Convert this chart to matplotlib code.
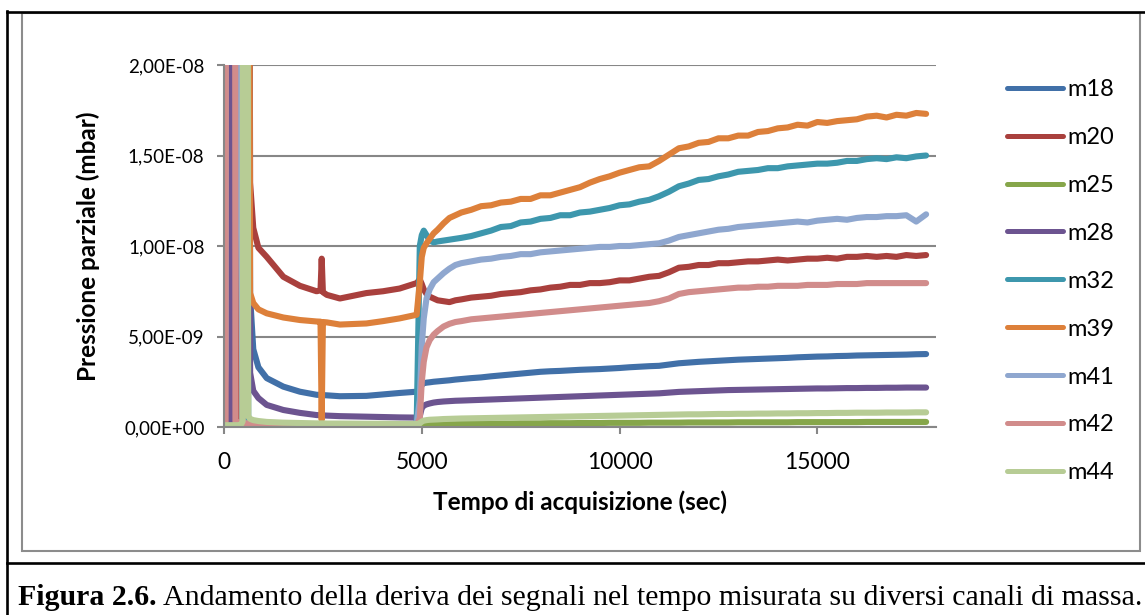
import numpy as np
import matplotlib.pyplot as plt
from matplotlib.ticker import FuncFormatter
from matplotlib.patches import Rectangle
from matplotlib.lines import Line2D

# tempo di acquisizione (sec)
tempo = [0, 40, 60, 160, 175, 190, 270, 290, 400, 420,
         470, 490, 590, 610, 660, 740, 870, 1080, 1500, 1920,
         2340, 2440, 2470, 2500, 2600, 2930, 3600, 4020, 4440, 4870,
         4950, 5000, 5050, 5120, 5200, 5300, 5400, 5550, 5700, 5850,
         6000, 6250, 6500, 6750, 7000, 7250, 7500, 7750, 8000, 8250,
         8500, 8750, 9000, 9250, 9500, 9750, 10000, 10250, 10500, 10750,
         11000, 11250, 11500, 11750, 12000, 12250, 12500, 12750, 13000, 13250,
         13500, 13750, 14000, 14250, 14500, 14750, 15000, 15250, 15500, 15750,
         16000, 16250, 16500, 16750, 17000, 17250, 17500, 17750]

# pressioni parziali in unita' di 1E-09 mbar
m18 = [0, 0, 0, 0, 0, 0, 0, 0, 0, 0,
       0, 60, 60, 60, 7.2, 4.3, 3.3, 2.7, 2.23, 1.95,
       1.78, 1.77, 1.77, 1.76, 1.75, 1.70, 1.72, 1.80, 1.88, 1.95,
       2.05, 2.35, 2.42, 2.45, 2.47, 2.50, 2.52, 2.55, 2.58, 2.62,
       2.65, 2.70, 2.74, 2.80, 2.85, 2.90, 2.95, 3.00, 3.05, 3.08,
       3.10, 3.13, 3.16, 3.18, 3.20, 3.23, 3.26, 3.30, 3.33, 3.36,
       3.38, 3.45, 3.52, 3.56, 3.60, 3.63, 3.66, 3.69, 3.72, 3.74,
       3.76, 3.78, 3.80, 3.82, 3.85, 3.87, 3.89, 3.90, 3.92, 3.93,
       3.95, 3.96, 3.97, 3.98, 3.99, 4.00, 4.02, 4.03]
m20 = [0, 0, 0, 0, 0, 0, 0, 0, 0, 60,
       60, 60, 60, 60, 13.5, 11.0, 9.9, 9.4, 8.3, 7.8,
       7.5, 7.55, 9.3, 7.45, 7.3, 7.1, 7.4, 7.5, 7.65, 7.95,
       8.15, 7.9, 7.6, 7.35, 7.2, 7.1, 7.0, 6.95, 6.9, 7.0,
       7.05, 7.15, 7.2, 7.25, 7.35, 7.4, 7.45, 7.55, 7.6, 7.7,
       7.75, 7.85, 7.85, 7.95, 7.95, 8.0, 8.1, 8.1, 8.2, 8.3,
       8.35, 8.55, 8.8, 8.85, 8.95, 8.95, 9.05, 9.05, 9.1, 9.15,
       9.15, 9.2, 9.25, 9.2, 9.25, 9.3, 9.3, 9.35, 9.3, 9.4,
       9.4, 9.45, 9.4, 9.45, 9.4, 9.5, 9.45, 9.5]
m25 = [0, 0, 0, 0, 0, 0, 0, 0, 0, 0,
       0, 60, 60, 0.1, 0.05, 0.03, 0.03, 0.03, 0.03, 0.03,
       0.03, 0.03, 0.03, 0.03, 0.03, 0.03, 0.03, 0.03, 0.03, 0.03,
       0.03, 0.05, 0.08, 0.10, 0.12, 0.13, 0.14, 0.15, 0.16, 0.16,
       0.17, 0.17, 0.18, 0.18, 0.19, 0.19, 0.20, 0.20, 0.20, 0.21,
       0.21, 0.21, 0.22, 0.22, 0.22, 0.23, 0.23, 0.23, 0.23, 0.24,
       0.24, 0.24, 0.24, 0.25, 0.25, 0.25, 0.25, 0.25, 0.26, 0.26,
       0.26, 0.26, 0.26, 0.26, 0.27, 0.27, 0.27, 0.27, 0.27, 0.27,
       0.27, 0.28, 0.28, 0.28, 0.28, 0.28, 0.28, 0.28]
m28 = [0, 0, 0, 0, 60, 0, 0, 0, 0, 0,
       0, 60, 60, 60, 3.0, 2.0, 1.6, 1.22, 0.94, 0.78,
       0.66, 0.65, 0.65, 0.64, 0.63, 0.60, 0.57, 0.55, 0.53, 0.52,
       0.60, 1.05, 1.18, 1.25, 1.30, 1.35, 1.38, 1.41, 1.43, 1.45,
       1.46, 1.48, 1.50, 1.52, 1.54, 1.56, 1.58, 1.60, 1.62, 1.64,
       1.66, 1.68, 1.70, 1.72, 1.74, 1.76, 1.78, 1.80, 1.82, 1.84,
       1.86, 1.90, 1.94, 1.96, 1.98, 2.00, 2.02, 2.04, 2.05, 2.06,
       2.07, 2.08, 2.09, 2.10, 2.11, 2.12, 2.13, 2.13, 2.14, 2.15,
       2.15, 2.16, 2.16, 2.17, 2.17, 2.18, 2.18, 2.18]
m32 = [0, 0, 0, 0, 0, 0, 0, 0, 0, 0,
       0, 60, 60, 0.3, 0.1, 0.05, 0.03, 0.03, 0.03, 0.03,
       0.03, 0.03, 0.03, 0.03, 0.03, 0.03, 0.03, 0.03, 0.03, 0.03,
       10.0, 10.6, 10.85, 10.6, 10.3, 10.2, 10.25, 10.3, 10.35, 10.4,
       10.45, 10.55, 10.7, 10.85, 11.05, 11.1, 11.3, 11.35, 11.5, 11.55,
       11.7, 11.7, 11.85, 11.9, 12.0, 12.1, 12.25, 12.3, 12.45, 12.55,
       12.75, 13.0, 13.3, 13.45, 13.65, 13.7, 13.85, 13.95, 14.1, 14.15,
       14.2, 14.3, 14.3, 14.4, 14.45, 14.5, 14.55, 14.55, 14.6, 14.7,
       14.7, 14.8, 14.85, 14.8, 14.9, 14.85, 14.95, 15.0]
m39 = [0, 0, 0, 0, 0, 0, 0, 0, 0, 0,
       0, 60, 60, 60, 7.4, 6.85, 6.5, 6.28, 6.05, 5.91,
       5.83, 5.82, 0.4, 5.8, 5.78, 5.66, 5.72, 5.85, 6.0, 6.2,
       8.0, 9.4, 9.9, 10.15, 10.4, 10.7, 10.9, 11.25, 11.55, 11.7,
       11.85, 12.0, 12.2, 12.25, 12.4, 12.45, 12.6, 12.6, 12.8, 12.8,
       12.95, 13.1, 13.25, 13.5, 13.7, 13.85, 14.05, 14.2, 14.35, 14.4,
       14.7, 15.05, 15.4, 15.5, 15.7, 15.75, 15.95, 15.95, 16.1, 16.1,
       16.3, 16.35, 16.5, 16.55, 16.7, 16.65, 16.85, 16.8, 16.9, 16.95,
       17.0, 17.15, 17.2, 17.1, 17.25, 17.2, 17.35, 17.3]
m41 = [0.3, 3.4, 60, 60, 60, 60, 60, 60, 60, 13.8,
       0.2, 0.2, 0.2, 0.2, 0.2, 0.15, 0.15, 0.15, 0.15, 0.15,
       0.15, 0.15, 0.15, 0.15, 0.15, 0.15, 0.15, 0.15, 0.15, 0.15,
       1.5, 4.5, 6.0, 7.1, 7.6, 8.0, 8.2, 8.5, 8.75, 8.95,
       9.05, 9.15, 9.25, 9.3, 9.4, 9.45, 9.55, 9.55, 9.65, 9.7,
       9.75, 9.8, 9.85, 9.9, 9.95, 9.95, 10.0, 10.0, 10.05, 10.1,
       10.15, 10.3, 10.5, 10.6, 10.7, 10.8, 10.9, 10.95, 11.05, 11.1,
       11.15, 11.2, 11.25, 11.3, 11.35, 11.3, 11.4, 11.45, 11.5, 11.45,
       11.55, 11.6, 11.6, 11.65, 11.65, 11.7, 11.35, 11.75]
m42 = [0.1, 0.1, 60, 60, 60, 60, 60, 0.3, 0.25, 0.2,
       0.2, 0.2, 0.2, 0.15, 0.12, 0.08, 0.07, 0.06, 0.06, 0.05,
       0.05, 0.05, 0.05, 0.05, 0.05, 0.05, 0.05, 0.05, 0.05, 0.05,
       0.5, 2.5, 3.6, 4.4, 4.8, 5.1, 5.3, 5.55, 5.7, 5.8,
       5.85, 5.95, 6.0, 6.05, 6.1, 6.15, 6.2, 6.25, 6.3, 6.35,
       6.4, 6.45, 6.5, 6.55, 6.6, 6.65, 6.7, 6.75, 6.8, 6.85,
       6.95, 7.1, 7.35, 7.45, 7.5, 7.55, 7.6, 7.65, 7.7, 7.7,
       7.75, 7.75, 7.8, 7.8, 7.8, 7.85, 7.85, 7.85, 7.9, 7.9,
       7.9, 7.95, 7.95, 7.95, 7.95, 7.95, 7.95, 7.95]
m44 = [0.1, 0.1, 0.1, 0.1, 0.1, 0.1, 0.1, 0.1, 0.1, 0.1,
       0.3, 60, 60, 0.6, 0.45, 0.38, 0.33, 0.28, 0.24, 0.22,
       0.2, 0.2, 0.2, 0.2, 0.19, 0.19, 0.18, 0.18, 0.17, 0.17,
       0.2, 0.3, 0.35, 0.38, 0.4, 0.41, 0.42, 0.44, 0.45, 0.46,
       0.47, 0.48, 0.49, 0.5, 0.51, 0.52, 0.53, 0.54, 0.55, 0.56,
       0.57, 0.58, 0.59, 0.6, 0.61, 0.62, 0.63, 0.64, 0.65, 0.66,
       0.67, 0.68, 0.69, 0.7, 0.7, 0.71, 0.72, 0.72, 0.73, 0.73,
       0.74, 0.74, 0.75, 0.75, 0.76, 0.76, 0.77, 0.77, 0.78, 0.78,
       0.79, 0.79, 0.79, 0.8, 0.8, 0.8, 0.81, 0.81]

canali = ['m18', 'm20', 'm25', 'm28', 'm32', 'm39', 'm41', 'm42', 'm44']
serie = [m18, m20, m25, m28, m32, m39, m41, m42, m44]
colori = ['#4170a8', '#a9403d', '#86a64a', '#6c5490', '#3d97ad',
          '#dd803a', '#8fa7cf', '#d18c8b', '#b7cc95']

W, H = 1145, 615
plt.rcParams['font.family'] = ['Lato', 'DejaVu Sans']

fig = plt.figure(figsize=(W / 100, H / 100), dpi=100)


def fx(x):
    return x / W


def fy(y):
    return 1 - y / H


# cornice della figura e bordo dell'area del grafico
fig.add_artist(Rectangle((fx(21.5), fy(551)), fx(1140 - 21.5), (551 - 13) / H,
                         transform=fig.transFigure, fill=False,
                         edgecolor='#8c8c8c', linewidth=1.5))
for xs, ys in [((7, 7), (11, 615)), ((7, 1145), (11.5, 11.5)), ((7, 1145), (563, 563))]:
    fig.add_artist(Line2D([fx(v) for v in xs], [fy(v) for v in ys],
                          transform=fig.transFigure, color='black', linewidth=1.9))

ax = fig.add_axes([fx(224), fy(427), fx(936 - 224), (427 - 65) / H])

t = np.array(tempo)
for nome, valori, col in zip(canali, serie, colori):
    ax.plot(t, np.array(valori) * 1e-9, color=col, linewidth=4.4, label=nome,
            solid_joinstyle='round', solid_capstyle='round')

ax.set_xlim(0, 18000)
ax.set_ylim(0, 2e-8)
ax.set_xticks([0, 5000, 10000, 15000])
ax.set_yticks([0, 5e-9, 1e-8, 1.5e-8, 2e-8])
ax.yaxis.set_major_formatter(FuncFormatter(lambda v, p: ('%.2E' % v).replace('.', ',')))
ax.grid(axis='y', color='#878787', linewidth=1.5)
ax.set_axisbelow(True)
for s in ['top', 'right']:
    ax.spines[s].set_visible(False)
for s in ['left', 'bottom']:
    ax.spines[s].set_color('#878787')
    ax.spines[s].set_linewidth(1.5)
ax.tick_params(axis='y', length=5, width=1.5, color='#878787', pad=9, labelsize=13.5)
ax.tick_params(axis='x', length=5, width=1.5, color='#878787', pad=13, labelsize=16.5)

fig.text(fx(580), fy(502), 'Tempo di acquisizione (sec)', ha='center', va='center',
         fontsize=17.5, fontweight='bold')
fig.text(fx(88), fy(246), 'Pressione parziale (mbar)', ha='center', va='center',
         rotation=90, fontsize=17.5, fontweight='bold')

leg = fig.legend(loc='upper left', bbox_to_anchor=(fx(1006.5), fy(79)), frameon=False,
                 fontsize=17, handlelength=2.4, handletextpad=0.18, labelspacing=1.14,
                 borderpad=0, borderaxespad=0)
for h in leg.get_lines():
    h.set_linewidth(3.6)

# didascalia
cap = fig.text(fx(18), fy(605), 'Figura 2.6.', fontsize=21.5, fontweight='bold',
               family='Liberation Serif', va='baseline')
fig.canvas.draw()
bb = cap.get_window_extent()
fig.text(bb.x1 / W + fx(6), fy(605),
         'Andamento della deriva dei segnali nel tempo misurata su diversi canali di massa.',
         fontsize=21.5, family='Liberation Serif', va='baseline')

fig.savefig('out.png', dpi=100)
